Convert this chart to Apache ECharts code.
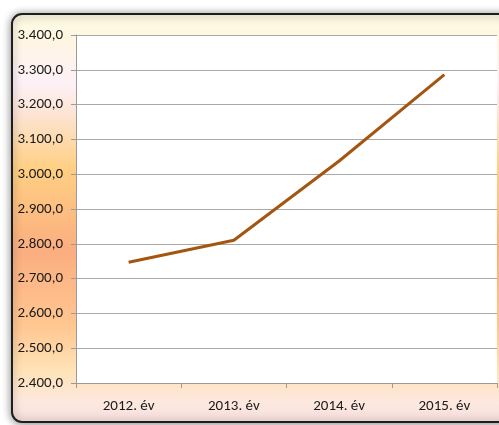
<!DOCTYPE html>
<html><head><meta charset="utf-8">
<style>html,body{margin:0;padding:0;background:#fff}#c{width:499px;height:425px}</style>
<script src="https://cdn.jsdelivr.net/npm/echarts@6/dist/echarts.min.js"></script>
</head><body><div id="c"></div>
<script>
const categories = ['2012. év', '2013. év', '2014. év', '2015. év'];
const values = [2747, 2810, 3038, 3286];
const yTicks = [2400, 2500, 2600, 2700, 2800, 2900, 3000, 3100, 3200, 3300, 3400];

const FONT = "Carlito, 'DejaVu Sans Condensed', sans-serif";
function fmt(v){
  const s = Math.round(v).toString();
  return s.slice(0, s.length-3) + '.' + s.slice(-3) + ',0';
}
const chart = echarts.init(document.getElementById('c'), null, {renderer:'canvas'});
chart.setOption({
  animation: false,
  backgroundColor: '#ffffff',
  graphic: [{
    type: 'rect', z: -100,
    shape: {x: 12, y: 14, width: 500, height: 408, r: 10},
    style: {
      fill: new echarts.graphic.LinearGradient(0, 0, 0, 1, [
        {offset: 0, color: '#fffbe3'},
        {offset: 0.06, color: '#fff6e2'},
        {offset: 0.17, color: '#fdf1f7'},
        {offset: 0.25, color: '#fde4d2'},
        {offset: 0.38, color: '#ffcf82'},
        {offset: 0.58, color: '#fbae80'},
        {offset: 0.76, color: '#ffc690'},
        {offset: 0.87, color: '#ffe2b6'},
        {offset: 0.95, color: '#fde8df'},
        {offset: 1, color: '#f6dede'}
      ]),
      stroke: '#1e1e1e', lineWidth: 2,
      shadowBlur: 8, shadowColor: 'rgba(0,0,0,0.45)', shadowOffsetX: 0, shadowOffsetY: 1
    }
  }],
  grid: {left: 76, right: 2, top: 35, bottom: 42, show: true, backgroundColor: '#ffffff', borderWidth: 0},
  xAxis: {
    type: 'category', data: categories, boundaryGap: true,
    axisLine: {lineStyle: {color: '#9a9a9a', width: 1}},
    axisTick: {show: true, length: 5, lineStyle: {color: '#9a9a9a'}},
    axisLabel: {color: '#1a1a1a', fontFamily: FONT, fontSize: 15, margin: 16}
  },
  yAxis: {
    type: 'value', min: 2400, max: 3400, interval: 100,
    axisLine: {show: true, lineStyle: {color: '#9a9a9a', width: 1}},
    axisTick: {show: true, length: 5, lineStyle: {color: '#9a9a9a'}},
    splitLine: {lineStyle: {color: '#a8a8a8', width: 1}},
    axisLabel: {color: '#1a1a1a', fontFamily: FONT, fontSize: 15, margin: 13,
      formatter: v => yTicks.includes(v) ? fmt(v) : ''}
  },
  series: [{
    type: 'line', data: values, symbol: 'none',
    lineStyle: {color: '#a4550f', width: 3}
  }]
});
</script></body></html>
